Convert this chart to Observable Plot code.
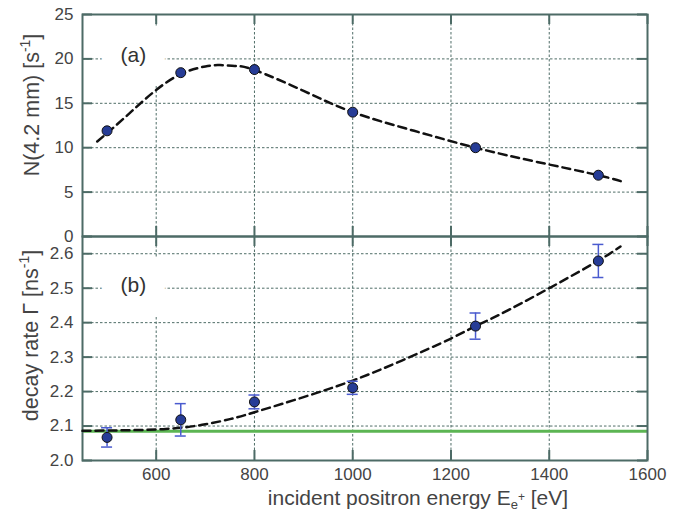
<!DOCTYPE html>
<html>
<head>
<meta charset="utf-8">
<script src="https://cdn.jsdelivr.net/npm/d3@7"></script>
<script src="https://cdn.jsdelivr.net/npm/@observablehq/plot@0.6"></script>
<style>
  html, body { margin: 0; padding: 0; background: white; }
  #wrap { position: relative; width: 692px; height: 515px; font-family: "Liberation Sans", Arial, sans-serif; }
  #wrap svg { position: absolute; left: 0; }
</style>
</head>
<body>
<div id="wrap"></div>
<script>
// ---- data ----
const energies = [500, 650, 800, 1000, 1250, 1500];
const countRate = [11.9, 18.45, 18.8, 14.0, 10.0, 6.9];
const decayRate = [2.067, 2.118, 2.170, 2.211, 2.390, 2.579];
const decayErr  = [0.028, 0.047, 0.020, 0.019, 0.038, 0.048];

const fitTopE = [480, 520, 560, 600, 650, 700, 730, 760, 800, 900, 1000, 1125, 1250, 1375, 1500, 1553];
const fitTopN = [10.7, 12.6, 14.6, 16.5, 18.3, 19.15, 19.3, 19.2, 18.75, 16.4, 14.0, 11.9, 10.0, 8.4, 6.9, 6.1];

const fitBotE = [450, 500, 550, 600, 650, 700, 750, 800, 900, 1000, 1100, 1200, 1250, 1300, 1400, 1500, 1545];
const fitBotG = [2.086, 2.087, 2.088, 2.090, 2.095, 2.105, 2.120, 2.140, 2.184, 2.232, 2.290, 2.354, 2.390, 2.424, 2.500, 2.580, 2.621];

const baseline = [2.085];
const xTicks = [600, 800, 1000, 1200, 1400, 1600];
const xGrid = [600, 800, 1000, 1200, 1400];
const yTicksTop = [0, 5, 10, 15, 20, 25];
const yGridTop = [5, 10, 15, 20];
const yTicksBot = [2.0, 2.1, 2.2, 2.3, 2.4, 2.5, 2.6];
const yGridBot = [2.1, 2.2, 2.3, 2.4, 2.5, 2.6];

const topPts = energies.map((e, i) => ({e, n: countRate[i]}));
const botPts = energies.map((e, i) => ({e, g: decayRate[i], lo: decayRate[i] - decayErr[i], hi: decayRate[i] + decayErr[i]}));
const topFit = fitTopE.map((e, i) => ({e, n: fitTopN[i]}));
const botFit = fitBotE.map((e, i) => ({e, g: fitBotG[i]}));

// ---- styles ----
const W = 692, ML = 82, MR = 45;
const innerW = W - ML - MR;
const frameColor = "#4d6b66";
const gridColor = "#4f6d67";
const textColor = "#444";
const dotFill = "#263c96";
const errColor = "#4a5bcf";
const green = "#5cb553";
const TL = 10; // inward tick length

const common = {
  width: W,
  marginLeft: ML,
  marginRight: MR,
  style: {background: "transparent", overflow: "visible", fontFamily: "'Liberation Sans', Arial, sans-serif", fontSize: "17px", color: textColor}
};

function gridMarks(yGrid) {
  return [
    Plot.gridY(yGrid, {stroke: gridColor, strokeOpacity: 1, strokeWidth: 1, strokeDasharray: "2.5,2"}),
    Plot.gridX(xGrid, {stroke: gridColor, strokeOpacity: 1, strokeWidth: 1, strokeDasharray: "2.5,2"})
  ];
}
function panelLabel(txt, dy) {
  return Plot.text([txt], {frameAnchor: "top-left", dx: 38, dy, fontSize: 21, fill: "#333", stroke: "white", strokeWidth: 40, strokeLinejoin: "miter", paintOrder: "stroke"});
}
function tickMarks(yTicks, yFmt, showX, innerH) {
  return [
    Plot.tickY(yTicks, {y: d => d, insetRight: innerW - TL, stroke: frameColor, strokeWidth: 2}),
    Plot.tickY(yTicks, {y: d => d, insetLeft: innerW - TL, stroke: frameColor, strokeWidth: 2}),
    Plot.tickX(xTicks, {x: d => d, insetTop: innerH - TL, stroke: frameColor, strokeWidth: 2}),
    Plot.tickX(xTicks, {x: d => d, insetBottom: innerH - TL, stroke: frameColor, strokeWidth: 2}),
    Plot.axisY(yTicks, {anchor: "left", tickSize: 0, tickPadding: 9, fill: textColor, fontSize: 17, label: null, tickFormat: d3.format(yFmt)}),
    ...(showX ? [Plot.axisX(xTicks, {anchor: "bottom", tickSize: 0, tickPadding: 7, fill: textColor, fontSize: 17, label: null, tickFormat: d => String(d)})] : [])
  ];
}

const topInnerH = 222;
const topPlot = Plot.plot({
  ...common,
  height: 250,
  marginTop: 14,
  marginBottom: 14,
  x: {domain: [450, 1600], axis: null},
  y: {domain: [0, 25], axis: null},
  marks: [
    ...gridMarks(yGridTop),
    panelLabel("(a)", 33),
    ...tickMarks(yTicksTop, "d", false, topInnerH),
    Plot.frame({stroke: frameColor, strokeWidth: 2}),
    Plot.line(topFit, {x: "e", y: "n", curve: "natural", stroke: "#111", strokeWidth: 2.5, strokeDasharray: "8,5"}),
    Plot.dot(topPts, {x: "e", y: "n", r: 5, fill: dotFill, stroke: "#111", strokeWidth: 1})
  ]
});
topPlot.style.top = "0px";

const botInnerH = 224;
const botPlot = Plot.plot({
  ...common,
  height: 293,
  marginTop: 14,
  marginBottom: 55,
  x: {domain: [450, 1600], axis: null},
  y: {domain: [2.0, 2.65], axis: null},
  marks: [
    ...gridMarks(yGridBot),
    panelLabel("(b)", 41),
    Plot.ruleY(baseline, {stroke: green, strokeWidth: 3}),
    ...tickMarks(yTicksBot, ".1f", true, botInnerH),
    Plot.frame({stroke: frameColor, strokeWidth: 2}),
    Plot.line(botFit, {x: "e", y: "g", curve: "natural", stroke: "#111", strokeWidth: 2.5, strokeDasharray: "8,5"}),
    Plot.ruleX(botPts, {x: "e", y1: "lo", y2: "hi", stroke: errColor, strokeWidth: 1.5}),
    Plot.ruleY(botPts, {x1: "e", x2: "e", y: "lo", insetLeft: -5.5, insetRight: -5.5, stroke: errColor, strokeWidth: 1.5}),
    Plot.ruleY(botPts, {x1: "e", x2: "e", y: "hi", insetLeft: -5.5, insetRight: -5.5, stroke: errColor, strokeWidth: 1.5}),
    Plot.dot(botPts, {x: "e", y: "g", r: 5, fill: dotFill, stroke: "#111", strokeWidth: 1})
  ]
});
botPlot.style.top = "222px";

const wrap = document.getElementById("wrap");
wrap.appendChild(botPlot);
wrap.appendChild(topPlot);

// axis titles with super/subscripts
function ylabel(svg, cx, cy, main, sup) {
  const t = d3.select(svg).append("text")
    .attr("transform", `translate(${cx},${cy}) rotate(-90)`)
    .attr("text-anchor", "middle")
    .attr("dy", "0.35em")
    .attr("fill", textColor)
    .attr("font-size", 21.5)
    .attr("font-family", "'Liberation Sans', Arial, sans-serif");
  t.append("tspan").text(main);
  t.append("tspan").attr("dy", -9).attr("font-size", 14).text(sup);
  t.append("tspan").attr("dy", 9).text("]");
}
ylabel(topPlot, 31, 105, "N(4.2 mm) [s", "-1");
ylabel(botPlot, 30, 113.5, "decay rate Γ [ns", "-1");

const xl = d3.select(botPlot).append("text")
  .attr("x", 418).attr("y", 283)
  .attr("text-anchor", "middle")
  .attr("fill", textColor)
  .attr("font-size", 21)
  .attr("font-family", "'Liberation Sans', Arial, sans-serif");
xl.append("tspan").text("incident positron energy E");
xl.append("tspan").attr("dy", 4).attr("font-size", 13).text("e");
xl.append("tspan").attr("dy", -8).attr("font-size", 12).text("+");
xl.append("tspan").attr("dy", 4).text(" [eV]");
</script>
</body>
</html>
